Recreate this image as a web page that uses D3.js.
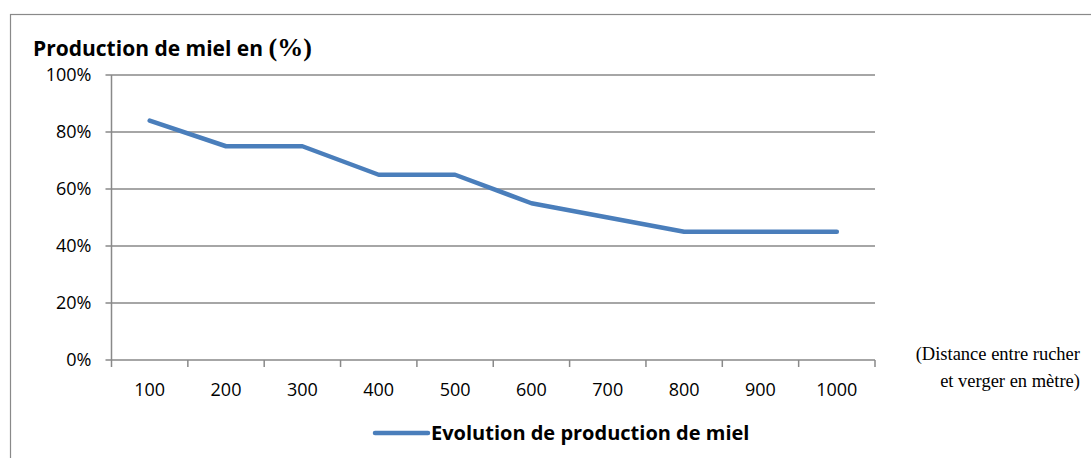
<!DOCTYPE html>
<html><head><meta charset="utf-8">
<script src="https://cdn.jsdelivr.net/npm/d3@7"></script>
<style>body{margin:0;background:#fff}svg{display:block}</style>
</head><body>
<svg id="c" width="1091" height="458"></svg>
<script>
const categories = ["100","200","300","400","500","600","700","800","900","1000"];
const values = [0.84,0.75,0.75,0.65,0.65,0.55,0.50,0.45,0.45,0.45];
const yTicks = [0,0.2,0.4,0.6,0.8,1.0];
const seriesName = "Evolution de production de miel";
const titleMain = "Production de miel en ";
const titleUnit = "(%)";
const xNote = ["(Distance entre rucher", "et verger en mètre)"];

const svg = d3.select("#c");
const m = {left:111.5, right:875, top:75, bottom:360};
const sans = "'Open Sans', 'Noto Sans', sans-serif";
const serif = "'Liberation Serif', 'DejaVu Serif', serif";
const gridCol = "#898989";

// frame
svg.append("rect").attr("x",10.5).attr("y",14.5).attr("width",1090).attr("height",450)
  .attr("fill","none").attr("stroke",gridCol).attr("stroke-width",1.2);

const x = d3.scaleBand().domain(categories).range([m.left, m.right]).padding(0);
const y = d3.scaleLinear().domain([0,1]).range([m.bottom, m.top]);

// gridlines
svg.append("g").selectAll("line").data(yTicks).join("line")
  .attr("x1", m.left-6).attr("x2", m.right)
  .attr("y1", d=>y(d)).attr("y2", d=>y(d))
  .attr("stroke", gridCol).attr("stroke-width", 1.5);

// y axis line
svg.append("line").attr("x1",m.left).attr("x2",m.left).attr("y1",m.top).attr("y2",m.bottom)
  .attr("stroke",gridCol).attr("stroke-width",1.5);

// y labels
svg.append("g").selectAll("text").data(yTicks).join("text")
  .attr("x", m.left-20).attr("y", d=>y(d)).attr("dy","0.35em")
  .attr("text-anchor","end").attr("font-family",sans).attr("font-size",18)
  .attr("fill","#000").text(d=>d3.format(".0%")(d));

// x ticks at band edges
const edges = categories.map(c=>x(c)).concat([x(categories[categories.length-1])+x.bandwidth()]);
svg.append("g").selectAll("line").data(edges).join("line")
  .attr("x1",d=>d).attr("x2",d=>d).attr("y1",m.bottom).attr("y2",m.bottom+7)
  .attr("stroke",gridCol).attr("stroke-width",1.5);

// x labels
svg.append("g").selectAll("text").data(categories).join("text")
  .attr("x", d=>x(d)+x.bandwidth()/2).attr("y", m.bottom+36)
  .attr("text-anchor","middle").attr("font-family",sans).attr("font-size",18)
  .attr("fill","#000").text(d=>d);

// line
const line = d3.line().x((d,i)=>x(categories[i])+x.bandwidth()/2).y(d=>y(d));
svg.append("path").datum(values).attr("d",line).attr("fill","none")
  .attr("stroke","#4A7EBB").attr("stroke-width",4.5)
  .attr("stroke-linecap","round").attr("stroke-linejoin","round");

// title
const t = svg.append("text").attr("x",33).attr("y",56).attr("fill","#000").attr("font-weight","bold");
t.append("tspan").attr("font-family",sans).attr("font-size",21).text(titleMain);
t.append("tspan").attr("font-family",serif).attr("font-size",26).text(titleUnit);

// x note
svg.append("g").selectAll("text").data(xNote).join("text")
  .attr("x",1080).attr("y",(d,i)=>360+i*27).attr("text-anchor","end")
  .attr("font-family",serif).attr("font-size",18.5).attr("fill","#000").text(d=>d);

// legend
svg.append("line").attr("x1",375).attr("x2",428).attr("y1",433).attr("y2",433)
  .attr("stroke","#4A7EBB").attr("stroke-width",4.5).attr("stroke-linecap","round");
svg.append("text").attr("x",431).attr("y",440).attr("font-family",sans).attr("font-weight","bold")
  .attr("font-size",20).attr("fill","#000").text(seriesName);
</script>
</body></html>
